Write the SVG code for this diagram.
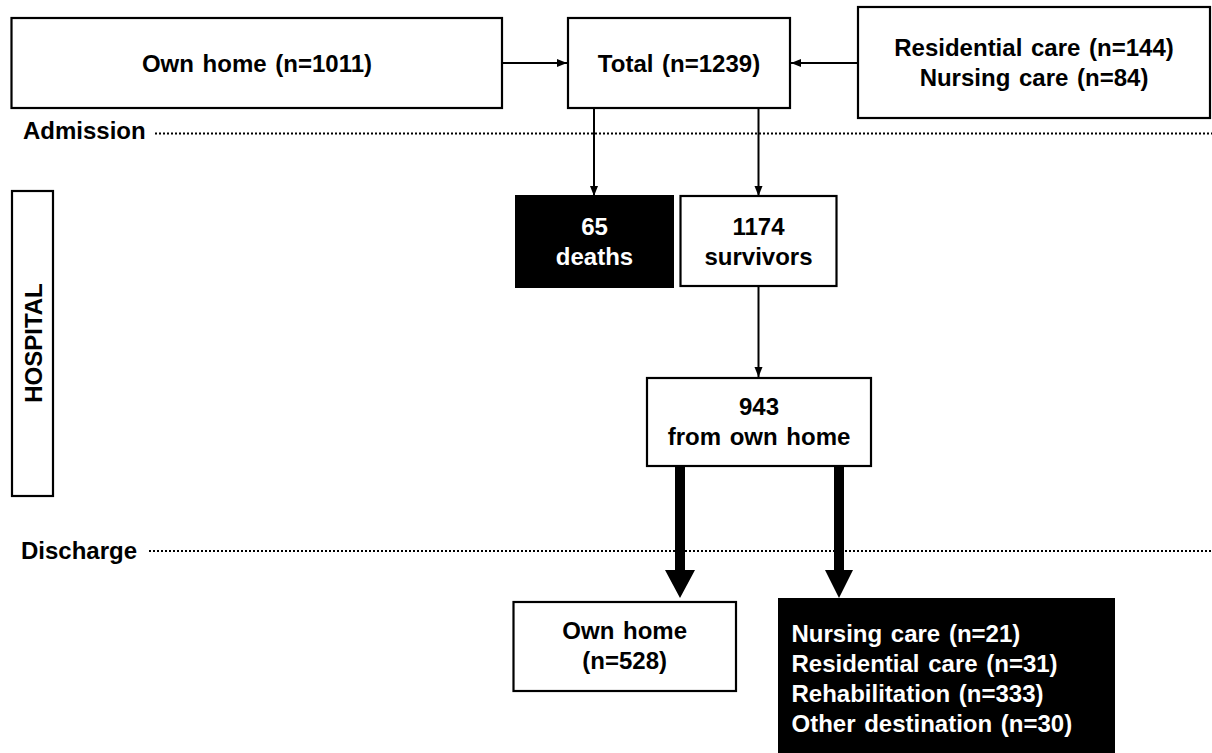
<svg xmlns="http://www.w3.org/2000/svg" width="1212" height="753" viewBox="0 0 1212 753">
<style>
.box{fill:#fff;stroke:#000;stroke-width:2.2}
.dark{fill:#000;stroke:#000;stroke-width:2}
text{font-family:"Liberation Sans",Arial,sans-serif;font-weight:bold;font-size:24px;word-spacing:2px;fill:#000}
.c{text-anchor:middle}
.w{fill:#fff}
.dot{stroke:#000;stroke-width:2;stroke-dasharray:2 2;fill:none}
.thin{stroke:#000;stroke-width:2;fill:none;marker-end:url(#ah)}
.thick{fill:#000}
</style>
<defs>
<marker id="ah" markerUnits="userSpaceOnUse" markerWidth="10" markerHeight="10" viewBox="0 0 10 10" refX="10" refY="5" orient="auto">
<path d="M0,1 L10,5 L0,9 Z" fill="#000"/>
</marker>
</defs>
<rect width="1212" height="753" fill="#fff"/>

<g id="admission-line">
<text x="23" y="139">Admission</text>
<line class="dot" x1="155" y1="133.5" x2="1212" y2="133.5"/>
</g>
<g id="discharge-line">
<text x="21" y="559">Discharge</text>
<line class="dot" x1="149" y1="551" x2="1212" y2="551"/>
</g>

<g id="own-home-in">
<rect class="box" x="11.5" y="18" width="490.5" height="90"/>
<text class="c" x="257" y="72">Own home (n=1011)</text>
</g>
<g id="total">
<rect class="box" x="568" y="18" width="222" height="90"/>
<text class="c" x="679" y="72">Total (n=1239)</text>
</g>
<g id="care-in">
<rect class="box" x="858" y="7" width="352" height="111"/>
<text class="c" x="1034" y="56">Residential care (n=144)</text>
<text class="c" x="1034" y="86">Nursing care (n=84)</text>
</g>
<g id="hospital">
<rect class="box" x="12" y="191" width="41" height="305"/>
<text class="c" transform="translate(41.5,343) rotate(-90)" x="0" y="0">HOSPITAL</text>
</g>
<g id="deaths">
<rect class="dark" x="516" y="196" width="157" height="91"/>
<text class="c w" x="594.5" y="235">65</text>
<text class="c w" x="594.5" y="265">deaths</text>
</g>
<g id="survivors">
<rect class="box" x="680.5" y="196" width="156" height="90"/>
<text class="c" x="758.5" y="235">1174</text>
<text class="c" x="758.5" y="265">survivors</text>
</g>
<g id="from-own-home">
<rect class="box" x="647" y="378" width="224" height="88"/>
<text class="c" x="759" y="415">943</text>
<text class="c" x="759" y="445">from own home</text>
</g>
<g id="own-home-out">
<rect class="box" x="513.5" y="602" width="222.5" height="89"/>
<text class="c" x="624.7" y="639">Own home</text>
<text class="c" x="624.7" y="669">(n=528)</text>
</g>
<g id="other-dest">
<rect class="dark" x="779" y="599" width="335" height="160"/>
<text class="w" x="791.5" y="641.7">Nursing care (n=21)</text>
<text class="w" x="791.5" y="671.7">Residential care (n=31)</text>
<text class="w" x="791.5" y="701.7">Rehabilitation (n=333)</text>
<text class="w" x="791.5" y="731.7">Other destination (n=30)</text>
</g>

<g id="connectors">
<line class="thin" x1="502" y1="63" x2="567" y2="63"/>
<line class="thin" x1="858" y1="63" x2="791" y2="63"/>
<line class="thin" x1="594" y1="108" x2="594" y2="196"/>
<line class="thin" x1="758.5" y1="108" x2="758.5" y2="196"/>
<line class="thin" x1="758.5" y1="286" x2="758.5" y2="377"/>
<path class="thick" d="M675,467 L685,467 L685,570 L695,570 L680,598 L665,570 L675,570 Z"/>
<path class="thick" d="M834,467 L844,467 L844,570 L853,570 L839,598 L825,570 L834,570 Z"/>
</g>
</svg>
